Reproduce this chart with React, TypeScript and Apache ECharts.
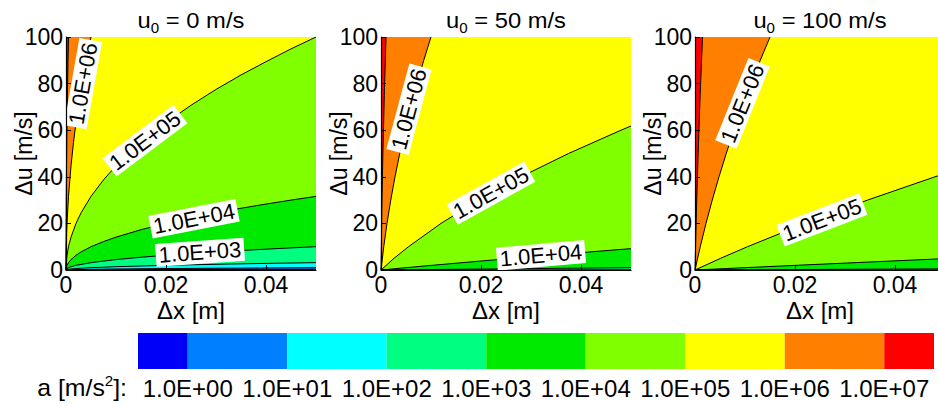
import React, { useEffect, useRef } from "react";
import * as echarts from "echarts";

const FONT = "Arial";

// Panel initial velocities (m/s)
const PANEL_U0 = ["0", "50", "100"];

// Axis ranges / ticks
const X_MIN = 0;
const X_MAX = 0.05;
const X_STEP = 0.02;
const Y_MIN = 0;
const Y_MAX = 100;
const Y_STEP = 20;

// Colour-bar levels (exponents of 10) and region colours (lowest .. highest)
const COLORBAR_EXPONENTS = [0, 1, 2, 3, 4, 5, 6, 7];
const REGION_COLORS = [
  "#0000f8",
  "#0080ff",
  "#00ffff",
  "#00ff80",
  "#00ea00",
  "#80ff00",
  "#ffff00",
  "#ff8000",
  "#ff0000",
];

// Contour lines: [Δx (m), Δu (m/s)]
// ---- u0 = 0 m/s ----
const U0_0_C7 = [[0, 0], [0.0000125, 15.8], [0.00005, 31.6], [0.0001, 44.7], [0.0002, 63.2], [0.0003, 77.5], [0.0004, 89.4], [0.0005, 100]];
const U0_0_C6 = [[0, 0], [0.00005, 10], [0.0001, 14.1], [0.0002, 20], [0.0005, 31.6], [0.001, 44.7], [0.0015, 54.8], [0.002, 63.2], [0.0025, 70.7], [0.003, 77.5], [0.0035, 83.7], [0.004, 89.4], [0.0045, 94.9], [0.005, 100]];
const U0_0_C5 = [[0, 0], [0.00005, 3.16], [0.0002, 6.32], [0.0005, 10], [0.001, 14.1], [0.002, 20], [0.003, 24.5], [0.005, 31.6], [0.0075, 38.7], [0.01, 44.7], [0.015, 54.8], [0.02, 63.2], [0.025, 70.7], [0.03, 77.5], [0.035, 83.7], [0.04, 89.4], [0.045, 94.9], [0.05, 100]];
const U0_0_C4 = [[0, 0], [0.00005, 1], [0.0002, 2], [0.0005, 3.16], [0.001, 4.47], [0.002, 6.32], [0.003, 7.75], [0.005, 10], [0.0075, 12.2], [0.01, 14.1], [0.015, 17.3], [0.02, 20], [0.025, 22.4], [0.03, 24.5], [0.035, 26.5], [0.04, 28.3], [0.045, 30], [0.05, 31.6]];
const U0_0_C3 = [[0, 0], [0.0002, 0.63], [0.0005, 1], [0.001, 1.41], [0.002, 2], [0.005, 3.16], [0.01, 4.47], [0.015, 5.48], [0.02, 6.32], [0.025, 7.07], [0.03, 7.75], [0.035, 8.37], [0.04, 8.94], [0.045, 9.49], [0.05, 10]];
const U0_0_C2 = [[0, 0], [0.0005, 0.32], [0.002, 0.63], [0.005, 1], [0.01, 1.41], [0.02, 2], [0.03, 2.45], [0.04, 2.83], [0.05, 3.16]];
const U0_0_C1 = [[0, 0], [0.005, 0.32], [0.02, 0.63], [0.05, 1]];
const U0_0_C0 = [[0, 0], [0.02, 0.2], [0.05, 0.32]];

// ---- u0 = 50 m/s ----
const U0_50_C7 = [[0, 0], [0.00016, 25], [0.000375, 50], [0.00066, 75], [0.001, 100]];
const U0_50_C6 = [[0, 0], [0.00055, 10], [0.0012, 20], [0.00195, 30], [0.0028, 40], [0.00375, 50], [0.0048, 60], [0.00595, 70], [0.0072, 80], [0.00855, 90], [0.01, 100]];
const U0_50_C5 = [[0, 0], [0.0026, 5], [0.0055, 10], [0.012, 20], [0.0195, 30], [0.028, 40], [0.0375, 50], [0.048, 60], [0.05, 61.8]];
const U0_50_C4 = [[0, 0], [0.00505, 1], [0.0102, 2], [0.0155, 3], [0.0208, 4], [0.0263, 5], [0.0318, 6], [0.0375, 7], [0.0432, 8], [0.049, 9], [0.05, 9.16]];
const U0_50_C3 = [[0, 0], [0.025, 0.5], [0.05, 0.99]];
const U0_50_C2 = [[0, 0], [0.05, 0.1]];

// ---- u0 = 100 m/s ----
const U0_100_C7 = [[0, 0], [0.00028, 25], [0.000625, 50], [0.00103, 75], [0.0015, 100]];
const U0_100_C6 = [[0, 0], [0.00105, 10], [0.0022, 20], [0.00345, 30], [0.0048, 40], [0.00625, 50], [0.0078, 60], [0.00945, 70], [0.0112, 80], [0.01305, 90], [0.015, 100]];
const U0_100_C5 = [[0, 0], [0.0051, 5], [0.0105, 10], [0.022, 20], [0.0345, 30], [0.048, 40], [0.05, 41.4]];
const U0_100_C4 = [[0, 0], [0.01, 1], [0.0202, 2], [0.0305, 3], [0.0408, 4], [0.05, 4.88]];
const U0_100_C3 = [[0, 0], [0.05, 0.5]];
const U0_100_C2 = [[0, 0], [0.05, 0.05]];

// Level exponents for each panel's contours (same order as the lists below)
const PANEL_LEVELS = [
  [7, 6, 5, 4, 3, 2, 1, 0],
  [7, 6, 5, 4, 3, 2],
  [7, 6, 5, 4, 3, 2],
];
const PANEL_CONTOURS = [
  [U0_0_C7, U0_0_C6, U0_0_C5, U0_0_C4, U0_0_C3, U0_0_C2, U0_0_C1, U0_0_C0],
  [U0_50_C7, U0_50_C6, U0_50_C5, U0_50_C4, U0_50_C3, U0_50_C2],
  [U0_100_C7, U0_100_C6, U0_100_C5, U0_100_C4, U0_100_C3, U0_100_C2],
];

const levelText = (e: number) => `1.0E+0${e}`;

// ---------- layout (pixels) ----------
const PANEL_LEFT = [66, 381, 695];
const PANEL_TOP = 37;
const PANEL_W = 250;
const PANEL_H = 233;

// contour-label anchors (data coords) and their angles
const CONTOUR_LABEL_LAYOUT = [
  [
    { e: 6, at: [0.0034, 80], rot: 80 },
    { e: 5, at: [0.0158, 55.5], rot: 37 },
    { e: 4, at: [0.0256, 22], rot: 11 },
    { e: 3, at: [0.0268, 7.6], rot: 4 },
  ],
  [
    { e: 6, at: [0.0056, 69], rot: 75 },
    { e: 5, at: [0.022, 33], rot: 29 },
    { e: 4, at: [0.032, 6.3], rot: 5 },
  ],
  [
    { e: 6, at: [0.0095, 71.5], rot: 68 },
    { e: 5, at: [0.0254, 21.5], rot: 21 },
  ],
];

function buildOption() {
  const grid: any[] = [];
  const xAxis: any[] = [];
  const yAxis: any[] = [];
  const series: any[] = [];
  const graphic: any[] = [];

  PANEL_U0.forEach((u0, i) => {
    grid.push({
      left: PANEL_LEFT[i],
      top: PANEL_TOP,
      width: PANEL_W,
      height: PANEL_H,
      containLabel: false,
      outerBoundsMode: "none",
      show: true,
      backgroundColor: REGION_COLORS[REGION_COLORS.length - 1],
      borderWidth: 0,
    });
    xAxis.push({
      gridIndex: i,
      type: "value",
      min: X_MIN,
      max: X_MAX,
      interval: X_STEP,
      axisLine: { show: true, onZero: false, lineStyle: { color: "#000", width: 1.2 } },
      axisTick: { show: true, inside: true, length: 5, lineStyle: { color: "#000" } },
      axisLabel: { showMaxLabel: false, fontSize: 23, color: "#000", margin: 3, fontFamily: FONT },
      splitLine: { show: false },
      name: "Δx [m]",
      nameLocation: "middle",
      nameGap: 28,
      nameMoveOverlap: false,
      nameTextStyle: { fontSize: 24, color: "#000", fontFamily: FONT },
      z: 10,
    });
    yAxis.push({
      gridIndex: i,
      type: "value",
      min: Y_MIN,
      max: Y_MAX,
      interval: Y_STEP,
      axisLine: { show: true, onZero: false, lineStyle: { color: "#000", width: 1.2 } },
      axisTick: { show: true, inside: true, length: 5, lineStyle: { color: "#000" } },
      axisLabel: { fontSize: 23, color: "#000", margin: 3, fontFamily: FONT },
      splitLine: { show: false },
      name: "Δu [m/s]",
      nameLocation: "middle",
      nameGap: 31,
      nameMoveOverlap: false,
      nameTextStyle: { fontSize: 23, color: "#000", fontFamily: FONT },
      z: 10,
    });

    const levels = PANEL_LEVELS[i];
    const contours = PANEL_CONTOURS[i];
    // filled bands: area under each contour coloured with the band just below it
    contours.forEach((pts, k) => {
      const last = pts[pts.length - 1];
      const fill = [...pts, [X_MAX, last[1]]];
      series.push({
        type: "line",
        xAxisIndex: i,
        yAxisIndex: i,
        data: fill,
        symbol: "none",
        silent: true,
        lineStyle: { width: 0, opacity: 0 },
        areaStyle: { color: REGION_COLORS[levels[k]], opacity: 1, origin: "start" },
        z: 2,
      });
    });
    // contour lines
    contours.forEach((pts) => {
      series.push({
        type: "line",
        xAxisIndex: i,
        yAxisIndex: i,
        data: pts,
        symbol: "none",
        silent: true,
        lineStyle: { width: 1, color: "#000" },
        z: 3,
      });
    });
    // contour labels
    series.push({
      type: "scatter",
      xAxisIndex: i,
      yAxisIndex: i,
      symbolSize: 1,
      silent: true,
      itemStyle: { color: "rgba(0,0,0,0)", opacity: 1 },
      z: 4,
      data: CONTOUR_LABEL_LAYOUT[i].map((l) => ({
        value: l.at,
        label: {
          show: true,
          position: "inside",
          rotate: l.rot,
          formatter: levelText(l.e),
          fontSize: 22,
          fontFamily: FONT,
          color: "#000",
          opacity: 1,
          backgroundColor: "#ffffff",
          padding: [1, 3, 0, 3],
        },
      })),
    });

    graphic.push({
      type: "text",
      x: PANEL_LEFT[i] + PANEL_W / 2,
      y: 20,
      scaleX: 1.08,
      style: {
        text: `{u|u}{s|0}{u| = ${u0} m/s}`,
        align: "center",
        verticalAlign: "middle",
        fill: "#000",
        rich: {
          u: { fontSize: 22, fontFamily: FONT, fill: "#000" },
          s: { fontSize: 14, fontFamily: FONT, fill: "#000", padding: [16, 0, 0, 0] },
        },
      },
    });
  });

  // colour bar
  const cb = 3;
  grid.push({ left: 138, top: 333, width: 796, height: 36, containLabel: false, outerBoundsMode: "none" });
  const bounds = [COLORBAR_EXPONENTS[0] - 0.5, ...COLORBAR_EXPONENTS, COLORBAR_EXPONENTS[COLORBAR_EXPONENTS.length - 1] + 0.5];
  xAxis.push({
    gridIndex: cb,
    type: "value",
    min: bounds[0],
    max: bounds[bounds.length - 1],
    axisLine: { show: false },
    axisTick: { show: false },
    splitLine: { show: false },
    axisLabel: {
      customValues: COLORBAR_EXPONENTS,
      formatter: (v: number) => levelText(v),
      fontSize: 24,
      color: "#000",
      margin: 7,
      fontFamily: FONT,
      showMinLabel: true,
      showMaxLabel: true,
    },
  });
  yAxis.push({ gridIndex: cb, type: "value", min: 0, max: 1, show: false });
  const segs = REGION_COLORS.map((c, k) => [bounds[k], bounds[k + 1], k]);
  series.push({
    type: "custom",
    xAxisIndex: cb,
    yAxisIndex: cb,
    silent: true,
    data: segs,
    encode: { x: [0, 1] },
    renderItem: (params: any, api: any) => {
      const p0 = api.coord([api.value(0), 1]);
      const p1 = api.coord([api.value(1), 0]);
      return {
        type: "rect",
        shape: { x: p0[0], y: p0[1], width: p1[0] - p0[0], height: p1[1] - p0[1] },
        style: { fill: REGION_COLORS[api.value(2)] },
      };
    },
  });

  graphic.push({
    type: "text",
    x: 127,
    y: 388,
    scaleX: 1.08,
    style: {
      text: "{t|a [m/s}{p|2}{t|]:}",
      align: "right",
      verticalAlign: "middle",
      fill: "#000",
      rich: {
        t: { fontSize: 23, fontFamily: FONT, fill: "#000" },
        p: { fontSize: 14, fontFamily: FONT, fill: "#000", padding: [0, 0, 14, 0] },
      },
    },
  });

  return {
    animation: false,
    backgroundColor: "#fff",
    textStyle: { fontFamily: FONT },
    grid,
    xAxis,
    yAxis,
    series,
    graphic,
  };
}

export default function App() {
  const ref = useRef<HTMLDivElement>(null);
  useEffect(() => {
    if (!ref.current) return;
    const chart = echarts.init(ref.current, undefined, { renderer: "svg" });
    chart.setOption(buildOption() as any);
    return () => chart.dispose();
  }, []);
  return (
    <div
      ref={ref}
      style={{ position: "absolute", left: 0, top: 0, width: 938, height: 406, overflow: "hidden" }}
    />
  );
}
